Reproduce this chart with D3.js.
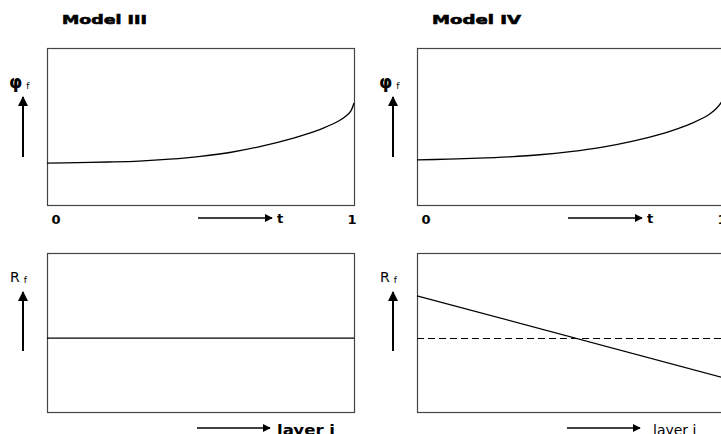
<!DOCTYPE html>
<html>
<head>
<meta charset="utf-8">
<script src="https://cdn.jsdelivr.net/npm/d3@7"></script>
<style>
  body { margin: 0; background: #fff; }
  svg { display: block; }
  text { font-family: "DejaVu Sans", Verdana, sans-serif; fill: #000; }
</style>
</head>
<body>
<div id="chart"></div>
<script>
// --- data (normalised 0..1 inside each frame) ---
var tVals = [0, 0.1, 0.2, 0.3, 0.4, 0.5, 0.6, 0.7, 0.8, 0.85, 0.9, 0.95, 0.975, 0.99, 1.0];
var phiModel3 = [0.267, 0.27, 0.274, 0.28, 0.292, 0.31, 0.336, 0.375, 0.425, 0.455, 0.49, 0.535, 0.568, 0.6, 0.65];
var phiModel4 = [0.287, 0.292, 0.298, 0.307, 0.32, 0.34, 0.367, 0.405, 0.455, 0.487, 0.525, 0.575, 0.615, 0.65, 0.69];

var layerVals = [0, 1];
var rfModel3 = [0.465, 0.465];
var rfModel4 = [0.73, 0.215];
var rfModel4Ref = [0.465, 0.465];   // dashed reference (model III level)

var tTicks = ["0", "1"];
var titles = ["Model III", "Model IV"];
var titleWidths = [85, 89];

var W = 721, H = 434;
var svg = d3.select("#chart").append("svg")
  .attr("width", W)
  .attr("height", H);

var defs = svg.append("defs");
function marker(id, size) {
  defs.append("marker")
    .attr("id", id)
    .attr("viewBox", "0 0 10 10")
    .attr("refX", 9).attr("refY", 5)
    .attr("markerWidth", size).attr("markerHeight", size)
    .attr("markerUnits", "userSpaceOnUse")
    .attr("orient", "auto")
    .append("path")
    .attr("d", "M0,0 L10,5 L0,10 z")
    .attr("fill", "#000");
}
marker("head", 8);
marker("headUp", 10);

var boxW = 307;
var colX = [47, 417];
var topY = 48, topH = 157;
var botY = 253, botH = 159;

var x = d3.scaleLinear().domain([0, 1]).range([0, boxW]);
var yTop = d3.scaleLinear().domain([0, 1]).range([topH, 0]);
var yBot = d3.scaleLinear().domain([0, 1]).range([botH, 0]);

var line = function(ys, yScale, xs) {
  return d3.line()
    .x(function(d, i) { return x(xs[i]); })
    .y(function(d) { return yScale(d); })
    .curve(d3.curveCatmullRom.alpha(0.5))(ys);
};

function frame(g, h) {
  g.append("rect")
    .attr("x", 0.5).attr("y", 0.5)
    .attr("width", boxW).attr("height", h)
    .attr("fill", "none")
    .attr("stroke", "#444")
    .attr("stroke-width", 1.2);
}

function upArrow(x0, y0, y1) {
  svg.append("line")
    .attr("x1", x0).attr("x2", x0)
    .attr("y1", y1).attr("y2", y0)
    .attr("stroke", "#000").attr("stroke-width", 2)
    .attr("marker-end", "url(#headUp)");
}

function rightArrow(x0, x1, y0) {
  svg.append("line")
    .attr("x1", x0).attr("x2", x1)
    .attr("y1", y0).attr("y2", y0)
    .attr("stroke", "#000").attr("stroke-width", 1.6)
    .attr("marker-end", "url(#head)");
}

function yLabel(x0, y0, main, size, bold) {
  var t = svg.append("text")
    .attr("x", x0).attr("y", y0)
    .style("font-size", size + "px")
    .style("font-weight", bold ? "bold" : "normal");
  t.append("tspan").text(main);
  t.append("tspan").attr("dx", 4).attr("dy", 1)
    .style("font-size", "9px").style("font-weight", "normal").text("f");
}

var phiSeries = [phiModel3, phiModel4];
var rfSeries = [rfModel3, rfModel4];

colX.forEach(function(cx, k) {
  // title
  svg.append("text")
    .attr("x", cx + 15).attr("y", 24)
    .attr("textLength", titleWidths[k])
    .attr("lengthAdjust", "spacingAndGlyphs")
    .style("font-size", "13px")
    .style("font-weight", "bold")
    .style("stroke", "#000").style("stroke-width", 0.6)
    .text(titles[k]);

  // top panel: phi_f over t
  var gt = svg.append("g").attr("transform", "translate(" + cx + "," + topY + ")");
  frame(gt, topH);
  gt.append("path")
    .attr("d", line(phiSeries[k], yTop, tVals))
    .attr("fill", "none")
    .attr("stroke", "#000")
    .attr("stroke-width", 1.3);

  gt.selectAll(".tick")
    .data(tTicks)
    .enter().append("text")
    .attr("class", "tick")
    .attr("x", function(d, i) { return x(i) + (i === 0 ? 9 : -2); })
    .attr("y", topH + 19)
    .attr("text-anchor", "middle")
    .style("font-size", "13px")
    .style("font-weight", "bold")
    .text(function(d) { return d; });

  rightArrow(cx + 151, cx + 225, topY + topH + 13);
  svg.append("text")
    .attr("x", cx + 230).attr("y", topY + topH + 18)
    .style("font-size", "13px")
    .style("font-weight", "bold")
    .text("t");

  yLabel(cx - 38, 88, "φ", 17, true);
  upArrow(cx - 24, 97, 157);

  // bottom panel: R_f over layer
  var gb = svg.append("g").attr("transform", "translate(" + cx + "," + botY + ")");
  frame(gb, botH);
  if (k === 1) {
    gb.append("path")
      .attr("d", line(rfModel4Ref, yBot, layerVals))
      .attr("fill", "none")
      .attr("stroke", "#000")
      .attr("stroke-width", 1)
      .attr("shape-rendering", "crispEdges")
      .attr("stroke-dasharray", "7,4");
  }
  gb.append("path")
    .attr("d", line(rfSeries[k], yBot, layerVals))
    .attr("fill", "none")
    .attr("stroke", "#000")
    .attr("stroke-width", 1.2);

  yLabel(cx - 37, 282, "R", 14, false);
  upArrow(cx - 24, 292, 351);

  rightArrow(cx + 150, cx + 223, 428);
  var lt = svg.append("text")
    .attr("x", k === 0 ? cx + 230 : cx + 236).attr("y", 435)
    .style("font-size", "14px")
    .style("font-weight", k === 0 ? "bold" : "normal")
    .text("layer i");
  if (k === 0) lt.attr("textLength", 58).attr("lengthAdjust", "spacingAndGlyphs");
});
</script>
</body>
</html>
